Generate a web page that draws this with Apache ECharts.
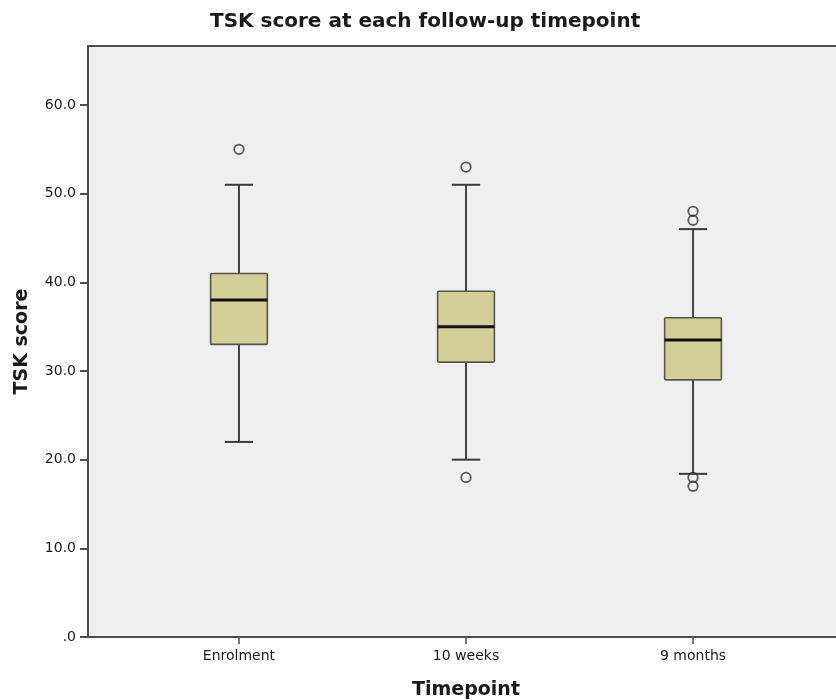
<!DOCTYPE html>
<html>
<head>
<meta charset="utf-8">
<title>TSK score at each follow-up timepoint</title>
<script src="https://cdn.jsdelivr.net/npm/echarts@6/dist/echarts.min.js"></script>
<style>
  html, body { margin: 0; padding: 0; background: #ffffff; overflow: hidden; }
  #chart { width: 836px; height: 700px; }
</style>
</head>
<body>
<div id="chart"></div>
<script>
// Timepoints on the horizontal axis
const timepoints = ['Enrolment', '10 weeks', '9 months'];

// Five-number summaries per timepoint: [low whisker, Q1, median, Q3, high whisker]
const enrolmentBox = [22, 33, 38, 41, 51];
const tenWeeksBox = [20, 31, 35, 39, 51];
const nineMonthsBox = [18.4, 29, 33.5, 36, 46];

// Outlying TSK scores per timepoint
const enrolmentOutliers = [55];
const tenWeeksOutliers = [53, 18];
const nineMonthsOutliers = [48, 47, 18, 17];

// Y axis ticks
const yTicks = [0, 10, 20, 30, 40, 50, 60];

const boxes = [enrolmentBox, tenWeeksBox, nineMonthsBox];
const outliers = [enrolmentOutliers, tenWeeksOutliers, nineMonthsOutliers];

// Boxes sit at positions 1, 2, 3 of a numeric x axis
const boxData = boxes.map((b, i) => [i + 1].concat(b));
const outlierData = [];
outliers.forEach((list, i) => list.forEach(v => outlierData.push([i + 1, v])));

const BOX_WIDTH = 0.25;   // in x-axis units
const X_MIN = 0.335;
const X_MAX = 3.665;
const TEXT = '#1a1a1a';
const AXIS = '#4d4d4d';

const chart = echarts.init(document.getElementById('chart'), null, { renderer: 'canvas' });

chart.setOption({
  animation: false,
  backgroundColor: '#ffffff',
  title: {
    text: 'TSK score at each follow-up timepoint',
    left: 205,
    top: 7,
    textStyle: { fontFamily: 'DejaVu Sans', fontSize: 20, fontWeight: 'bold', color: TEXT }
  },
  grid: {
    left: 88, top: 46, width: 756, height: 591,
    outerBoundsMode: 'none',
    containLabel: false,
    show: true, backgroundColor: '#efefef', borderWidth: 0, borderColor: '#efefef'
  },
  xAxis: [
    {
      type: 'value',
      min: X_MIN, max: X_MAX,
      name: 'Timepoint',
      nameLocation: 'middle',
      nameGap: 44,
      nameTextStyle: { fontFamily: 'DejaVu Sans', fontSize: 19, fontWeight: 'bold', color: TEXT },
      axisLine: { show: true, onZero: false, lineStyle: { color: AXIS, width: 2 } },
      axisTick: { show: true, length: 7, customValues: [1, 2, 3], lineStyle: { color: AXIS, width: 1.5 } },
      axisLabel: {
        customValues: [1, 2, 3],
        margin: 12,
        fontFamily: 'DejaVu Sans', fontSize: 14, color: TEXT,
        formatter: v => timepoints[Math.round(v) - 1] || ''
      },
      splitLine: { show: false }
    },
    {
      // top frame edge of the plot area
      type: 'value',
      position: 'top',
      min: X_MIN, max: X_MAX,
      axisLine: { show: true, onZero: false, lineStyle: { color: AXIS, width: 2 } },
      axisTick: { show: false },
      axisLabel: { show: false },
      splitLine: { show: false }
    }
  ],
  yAxis: {
    type: 'value',
    min: 0, max: 66.65, interval: 10,
    name: 'TSK score',
    nameLocation: 'middle',
    nameGap: 66,
    nameTextStyle: { fontFamily: 'DejaVu Sans', fontSize: 19, fontWeight: 'bold', color: TEXT, verticalAlign: 'middle' },
    axisLine: { show: true, onZero: false, lineStyle: { color: AXIS, width: 2 } },
    axisTick: { show: true, length: 8, customValues: yTicks, lineStyle: { color: AXIS, width: 2 } },
    axisLabel: {
      customValues: yTicks,
      margin: 12,
      fontFamily: 'DejaVu Sans', fontSize: 14, color: TEXT,
      formatter: v => (v === 0 ? '.0' : v.toFixed(1))
    },
    splitLine: { show: false }
  },
  series: [
    {
      type: 'custom',
      name: 'TSK score',
      data: boxData,
      encode: { x: 0, y: [1, 2, 3, 4, 5] },
      renderItem: function (params, api) {
        const x = api.value(0);
        const lo = api.coord([x, api.value(1)]);
        const q1 = api.coord([x, api.value(2)]);
        const med = api.coord([x, api.value(3)]);
        const q3 = api.coord([x, api.value(4)]);
        const hi = api.coord([x, api.value(5)]);
        const w = api.size([BOX_WIDTH, 0])[0];
        const cx = lo[0];
        const cap = w / 2;
        const whisker = { stroke: '#1a1a1a', lineWidth: 1.6 };
        const capStyle = { stroke: '#3a3a3a', lineWidth: 2 };
        return {
          type: 'group',
          children: [
            { type: 'line', shape: { x1: cx, y1: hi[1], x2: cx, y2: q3[1] }, style: whisker },
            { type: 'line', shape: { x1: cx, y1: q1[1], x2: cx, y2: lo[1] }, style: whisker },
            { type: 'line', shape: { x1: cx - cap / 2, y1: hi[1], x2: cx + cap / 2, y2: hi[1] }, style: capStyle },
            { type: 'line', shape: { x1: cx - cap / 2, y1: lo[1], x2: cx + cap / 2, y2: lo[1] }, style: capStyle },
            {
              type: 'rect',
              shape: { x: cx - w / 2, y: q3[1], width: w, height: q1[1] - q3[1], r: 1 },
              style: { fill: '#d3cf98', stroke: '#55554a', lineWidth: 1.6 }
            },
            { type: 'line', shape: { x1: cx - w / 2, y1: med[1], x2: cx + w / 2, y2: med[1] }, style: { stroke: '#111111', lineWidth: 3 } }
          ]
        };
      },
      z: 2
    },
    {
      type: 'scatter',
      name: 'Outliers',
      data: outlierData,
      symbol: 'circle',
      symbolSize: 9.5,
      itemStyle: { color: 'rgba(0,0,0,0)', borderColor: '#333333', borderWidth: 1.8 },
      z: 3
    }
  ]
});
</script>
</body>
</html>
